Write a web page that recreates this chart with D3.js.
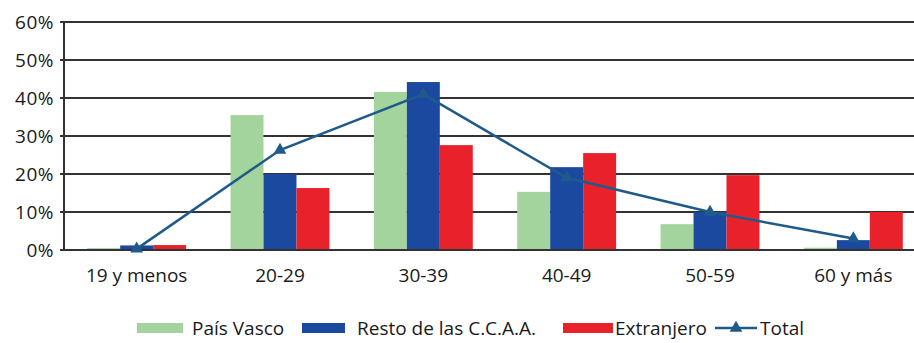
<!DOCTYPE html>
<html><head><meta charset="utf-8">
<script src="https://cdn.jsdelivr.net/npm/d3@7"></script>
<style>body{margin:0;background:#fff}svg{display:block}text{font-family:"Open Sans",Lato,sans-serif;fill:#1a1a1a}</style>
</head><body><svg id="c" width="914" height="343"></svg>
<script>
const categories = ["19 y menos","20-29","30-39","40-49","50-59","60 y más"];
const seriesNames = ["País Vasco","Resto de las C.C.A.A.","Extranjero"];
const paisVasco = [0.5, 35.5, 41.6, 15.3, 6.8, 0.6];
const restoCCAA = [1.2, 20.0, 44.2, 21.8, 10.0, 2.6];
const extranjero = [1.3, 16.3, 27.6, 25.5, 19.7, 10.0];
const total = [0.3, 26.3, 41.0, 19.0, 10.0, 3.0];
const yTicks = [0,10,20,30,40,50,60];
const colors = ["#a3d49e","#1b49a0","#e8212b"];
const lineColor = "#1f5a8a";

const svg = d3.select("#c");
const x0 = d3.scaleBand().domain(categories).range([65, 925]).paddingInner(0.31).paddingOuter(0.155);
const x1 = d3.scaleBand().domain(seriesNames).range([0, x0.bandwidth()]);
const y = d3.scaleLinear().domain([0,60]).range([250,22]);

svg.append("g").selectAll("line").data(yTicks).join("line")
  .attr("x1",60).attr("x2",914).attr("y1",d=>y(d)).attr("y2",d=>y(d))
  .attr("stroke","#333").attr("stroke-width",2);
svg.append("line").attr("x1",64).attr("x2",64).attr("y1",y(60)-1).attr("y2",y(0)+1)
  .attr("stroke","#333").attr("stroke-width",2);
svg.append("g").selectAll("text").data(yTicks).join("text")
  .attr("x",54).attr("y",d=>y(d)).attr("dy","0.35em").attr("text-anchor","end")
  .attr("font-size",19).attr("letter-spacing",0.5).text(d=>d+"%");

const series = [paisVasco, restoCCAA, extranjero];
series.forEach((vals,si)=>{
  svg.append("g").selectAll("rect").data(vals).join("rect")
    .attr("x",(d,i)=>x0(categories[i])+x1(seriesNames[si]))
    .attr("width",x1.bandwidth())
    .attr("y",d=>y(d)).attr("height",d=>y(0)-y(d))
    .attr("fill",colors[si]);
});
svg.append("line").attr("x1",60).attr("x2",914).attr("y1",y(0)).attr("y2",y(0)).attr("stroke","#333").attr("stroke-width",2);

const cx = i => x0(categories[i]) + x0.bandwidth()/2;
const line = d3.line().x((d,i)=>cx(i)).y(d=>y(d));
svg.append("path").datum(total).attr("d",line).attr("fill","none").attr("stroke",lineColor).attr("stroke-width",2.5);
const tri = d3.symbol().type(d3.symbolTriangle).size(70);
svg.append("g").selectAll("path").data(total).join("path")
  .attr("d",tri).attr("transform",(d,i)=>`translate(${cx(i)},${y(d)})`).attr("fill",lineColor);

svg.append("g").selectAll("text").data(categories).join("text")
  .attr("x",(d,i)=>cx(i)).attr("y",282).attr("text-anchor","middle").attr("font-size",19).text(d=>d);

const lg = svg.append("g");
const items = [
  {name:seriesNames[0], type:"rect", c:colors[0], sx:137, sw:46, tx:192},
  {name:seriesNames[1], type:"rect", c:colors[1], sx:302, sw:43, tx:357},
  {name:seriesNames[2], type:"rect", c:colors[2], sx:563, sw:50, tx:615},
  {name:"Total", type:"line", c:lineColor, sx:715, sw:42, tx:760}
];
items.forEach(it=>{
  if(it.type==="rect"){
    lg.append("rect").attr("x",it.sx).attr("y",323).attr("width",it.sw).attr("height",10).attr("fill",it.c);
  } else {
    lg.append("line").attr("x1",it.sx).attr("x2",it.sx+it.sw).attr("y1",328).attr("y2",328).attr("stroke",it.c).attr("stroke-width",2.5);
    lg.append("path").attr("d",tri).attr("transform",`translate(${it.sx+it.sw/2},328)`).attr("fill",it.c);
  }
  lg.append("text").attr("x",it.tx).attr("y",335).attr("font-size",19).text(it.name);
});
</script></body></html>
